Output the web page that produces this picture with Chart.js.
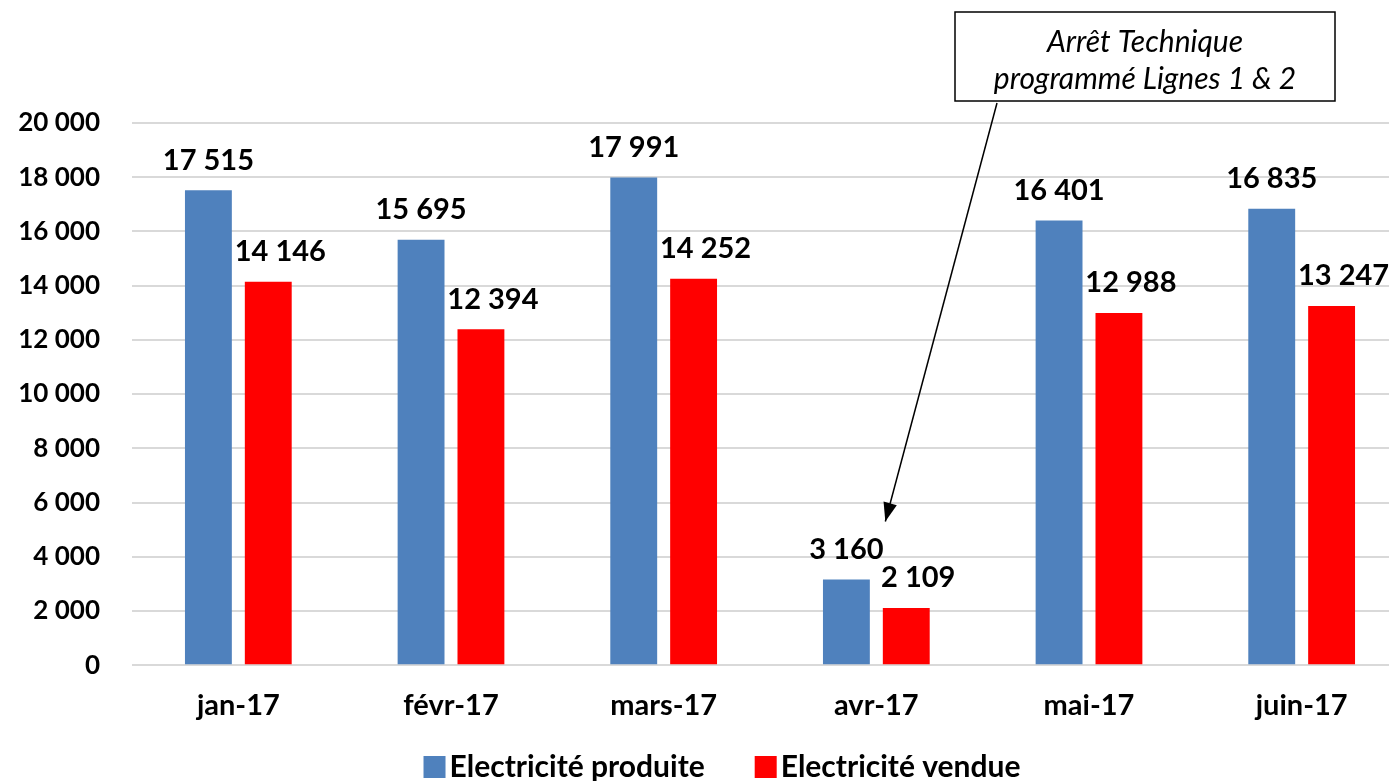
<!DOCTYPE html>
<html>
<head>
<meta charset="utf-8">
<script src="https://cdn.jsdelivr.net/npm/chart.js@4"></script>
<style>
  html, body { margin: 0; padding: 0; background: #fff; overflow: hidden; }
  #wrap { width: 1444px; height: 781px; }
</style>
</head>
<body>
<div id="wrap"><canvas id="elec-chart" width="1444" height="781"></canvas></div>
<script>
const months = ['jan-17', 'févr-17', 'mars-17', 'avr-17', 'mai-17', 'juin-17'];
const produite = [17515, 15695, 17991, 3160, 16401, 16835];
const vendue = [14146, 12394, 14252, 2109, 12988, 13247];
const noteLines = ['Arrêt Technique', 'programmé Lignes 1 & 2'];

const FONT = 'Lato, "Open Sans", sans-serif';

// format 17515 -> "17 515"
function fmt(v) {
  return String(v).replace(/\B(?=(\d{3})+(?!\d))/g, ' ');
}

// etiquettes au-dessus des barres
const barLabels = {
  id: 'barLabels',
  afterDatasetsDraw(chart) {
    const ctx = chart.ctx;
    ctx.save();
    ctx.font = 'bold 29px ' + FONT;
    ctx.fillStyle = '#000';
    ctx.textAlign = 'center';
    ctx.textBaseline = 'middle';
    chart.data.datasets.forEach((ds, i) => {
      const meta = chart.getDatasetMeta(i);
      const dx = i === 1 ? 12 : 0;
      meta.data.forEach((bar, j) => {
        ctx.fillText(fmt(ds.data[j]), bar.x + dx, bar.y - 30);
      });
    });
    ctx.restore();
  }
};

// légende en bas (dessinée à la main pour caler l'espacement)
const bottomLegend = {
  id: 'bottomLegend',
  afterDraw(chart) {
    const ctx = chart.ctx;
    const box = 22, gapText = 4, gapItem = 50, yMid = 767;
    ctx.save();
    ctx.font = 'bold 30px ' + FONT;
    ctx.textBaseline = 'middle';
    ctx.textAlign = 'left';
    const items = chart.data.datasets.map(ds => ({
      text: ds.label, color: ds.backgroundColor,
      w: box + gapText + ctx.measureText(ds.label).width,
    }));
    const total = items.reduce((s, it) => s + it.w, 0) + gapItem * (items.length - 1);
    let x = chart.width / 2 - total / 2;
    items.forEach(it => {
      ctx.fillStyle = it.color;
      ctx.fillRect(x, yMid - box / 2, box, box);
      ctx.fillStyle = '#000';
      ctx.fillText(it.text, x + box + gapText, yMid);
      x += it.w + gapItem;
    });
    ctx.restore();
  }
};

// note + flèche vers avr-17
const note = {
  id: 'note',
  afterDraw(chart) {
    const ctx = chart.ctx;
    const x = chart.scales.x, y = chart.scales.y;
    ctx.save();
    // boîte
    const bx = 955, by = 12, bw = 380, bh = 89;
    ctx.strokeStyle = '#000';
    ctx.lineWidth = 1.5;
    ctx.strokeRect(bx, by, bw, bh);
    ctx.font = 'italic 30px ' + FONT;
    ctx.fillStyle = '#000';
    ctx.textAlign = 'center';
    ctx.textBaseline = 'middle';
    ctx.fillText(noteLines[0], bx + bw / 2, by + 30);
    ctx.fillText(noteLines[1], bx + bw / 2, by + 67);
    // flèche
    const x0 = 997, y0 = by + bh + 2;
    const x1 = x.getPixelForValue(3) + 9, y1 = y.getPixelForValue(5300);
    ctx.lineWidth = 1.5;
    ctx.beginPath();
    ctx.moveTo(x0, y0);
    ctx.lineTo(x1, y1);
    ctx.stroke();
    const ang = Math.atan2(y1 - y0, x1 - x0);
    const len = 20, w = 0.35;
    ctx.beginPath();
    ctx.moveTo(x1, y1);
    ctx.lineTo(x1 - len * Math.cos(ang - w), y1 - len * Math.sin(ang - w));
    ctx.lineTo(x1 - len * Math.cos(ang + w), y1 - len * Math.sin(ang + w));
    ctx.closePath();
    ctx.fill();
    ctx.restore();
  }
};

new Chart(document.getElementById('elec-chart'), {
  type: 'bar',
  data: {
    labels: months,
    datasets: [
      {
        label: 'Electricité produite',
        data: produite,
        backgroundColor: '#4f81bd',
        barPercentage: 0.783,
        categoryPercentage: 0.563,
      },
      {
        label: 'Electricité vendue',
        data: vendue,
        backgroundColor: '#ff0000',
        barPercentage: 0.783,
        categoryPercentage: 0.563,
      },
    ],
  },
  options: {
    responsive: false,
    animation: false,
    layout: {
      padding: { top: 123, right: 36, left: 10, bottom: 35 },
    },
    plugins: {
      legend: { display: false },
      tooltip: { enabled: false },
    },
    scales: {
      x: {
        grid: { display: false, drawTicks: false },
        border: { display: false },
        ticks: {
          color: '#000',
          padding: 23,
          font: { family: FONT, size: 29, weight: 'bold' },
        },
      },
      y: {
        min: 0,
        max: 20000,
        grid: { color: '#d9d9d9', lineWidth: 2, drawTicks: false },
        border: { display: false },
        afterFit(s) { s.width = 122; },
        ticks: {
          stepSize: 2000,
          color: '#000',
          padding: 32,
          font: { family: FONT, size: 26, weight: 'bold' },
          callback: v => fmt(v),
        },
      },
    },
  },
  plugins: [barLabels, bottomLegend, note],
});
</script>
</body>
</html>
